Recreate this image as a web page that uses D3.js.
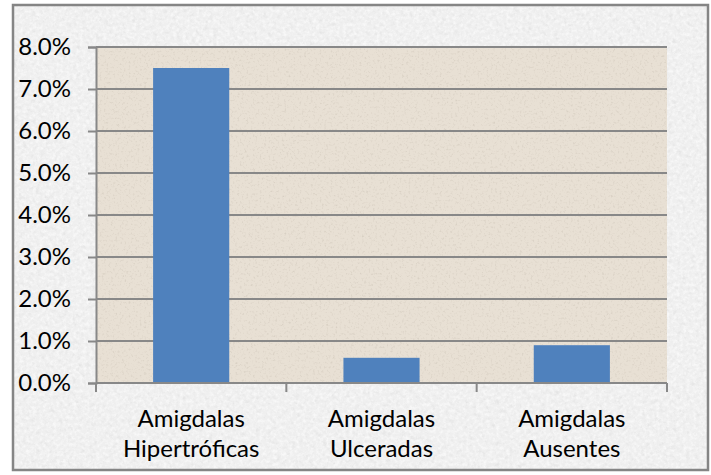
<!DOCTYPE html>
<html>
<head>
<meta charset="utf-8">
<script src="https://cdn.jsdelivr.net/npm/d3@7/dist/d3.min.js"></script>
<style>
  html, body { margin: 0; padding: 0; background: #ffffff; }
  svg { display: block; }
  text { font-family: Lato, "Open Sans", sans-serif; fill: #000; }
</style>
</head>
<body>
<div id="chart"></div>
<script>
// Chart data
const categories = [["Amigdalas", "Hipertróficas"], ["Amigdalas", "Ulceradas"], ["Amigdalas", "Ausentes"]];
const values = [0.075, 0.006, 0.009];
const yTicks = [0, 0.01, 0.02, 0.03, 0.04, 0.05, 0.06, 0.07, 0.08];

const W = 711, H = 475;
const frame = { x: 13, y: 5, w: 695, h: 465 };
const plot = { left: 96, top: 47, right: 667, bottom: 383 };

const svg = d3.select("#chart").append("svg").attr("width", W).attr("height", H);
const defs = svg.append("defs");

// Builds a speckle filter: noise turned into translucent spots of one colour
function grainFilter(id, freq, seed, rgb, gain, offset) {
  const f = defs.append("filter").attr("id", id)
    .attr("x", 0).attr("y", 0).attr("width", "100%").attr("height", "100%");
  f.append("feTurbulence").attr("type", "fractalNoise").attr("baseFrequency", freq)
    .attr("numOctaves", 3).attr("seed", seed).attr("result", "noise");
  f.append("feColorMatrix").attr("in", "noise").attr("type", "matrix")
    .attr("values", `0 0 0 0 ${rgb[0]}  0 0 0 0 ${rgb[1]}  0 0 0 0 ${rgb[2]}  ${gain} 0 0 0 ${offset}`)
    .attr("result", "spots");
  f.append("feComposite").attr("in", "spots").attr("in2", "SourceGraphic").attr("operator", "atop");
}
grainFilter("graniteDark", 0.22, 7, [0.66, 0.66, 0.66], 2.4, -1.2);
grainFilter("graniteLight", 0.3, 11, [1, 1, 1], 2.4, -0.95);
grainFilter("paperGrain", 0.45, 3, [0.64, 0.58, 0.5], 1.8, -0.95);

// Frame background (two speckle layers) and border
const frameRect = g => g.append("rect").attr("x", frame.x).attr("y", frame.y)
  .attr("width", frame.w).attr("height", frame.h);
frameRect(svg).attr("fill", "#efefef").attr("filter", "url(#graniteDark)");
frameRect(svg).attr("fill", "#efefef").attr("opacity", 0.6).attr("filter", "url(#graniteLight)");
frameRect(svg).attr("fill", "none").attr("stroke", "#858585").attr("stroke-width", 2.5);

// Plot area background
svg.append("rect").attr("x", plot.left).attr("y", plot.top)
  .attr("width", plot.right - plot.left).attr("height", plot.bottom - plot.top)
  .attr("fill", "#e8e0d4").attr("filter", "url(#paperGrain)");

const x = d3.scaleBand().domain(d3.range(categories.length))
  .range([plot.left, plot.right]).paddingInner(0.6).paddingOuter(0.3);
const xGroup = d3.scaleBand().domain(d3.range(categories.length))
  .range([plot.left, plot.right]);
const y = d3.scaleLinear().domain([0, 0.08]).range([plot.bottom, plot.top]);

// Horizontal gridlines
svg.append("g").selectAll("line").data(yTicks.slice(1)).join("line")
  .attr("x1", plot.left).attr("x2", plot.right)
  .attr("y1", d => y(d)).attr("y2", d => y(d))
  .attr("stroke", "#888888").attr("stroke-width", 2);

// Bars
svg.append("g").selectAll("rect").data(values).join("rect")
  .attr("x", (d, i) => x(i)).attr("width", x.bandwidth())
  .attr("y", d => y(d)).attr("height", d => y(0) - y(d))
  .attr("fill", "#4f81bd");

// Y axis
const yAxis = d3.axisLeft(y).tickValues(yTicks).tickSize(8).tickPadding(17)
  .tickFormat(d3.format(".1%"));
const gy = svg.append("g").attr("transform", `translate(${plot.left},0)`).call(yAxis);
gy.selectAll("path, line").attr("stroke", "#888888").attr("stroke-width", 2);
gy.selectAll("text").attr("font-size", 24).attr("font-family", "Lato, sans-serif").attr("fill", "#000");

// X axis
const gx = svg.append("g").attr("transform", `translate(0,${plot.bottom})`);
gx.append("line").attr("x1", plot.left).attr("x2", plot.right)
  .attr("stroke", "#888888").attr("stroke-width", 2);
const edges = d3.range(categories.length + 1).map(i => i < categories.length ? xGroup(i) : plot.right);
gx.selectAll("line.tick").data(edges).join("line").attr("class", "tick")
  .attr("x1", d => d).attr("x2", d => d).attr("y1", 0).attr("y2", 9)
  .attr("stroke", "#888888").attr("stroke-width", 2);
const labels = gx.selectAll("text").data(categories).join("text")
  .attr("text-anchor", "middle").attr("font-size", 24)
  .attr("transform", (d, i) => `translate(${xGroup(i) + xGroup.bandwidth() / 2},0)`);
labels.selectAll("tspan").data(d => d).join("tspan")
  .attr("x", 0).attr("y", (d, j) => 44 + j * 30).text(d => d);
</script>
</body>
</html>
